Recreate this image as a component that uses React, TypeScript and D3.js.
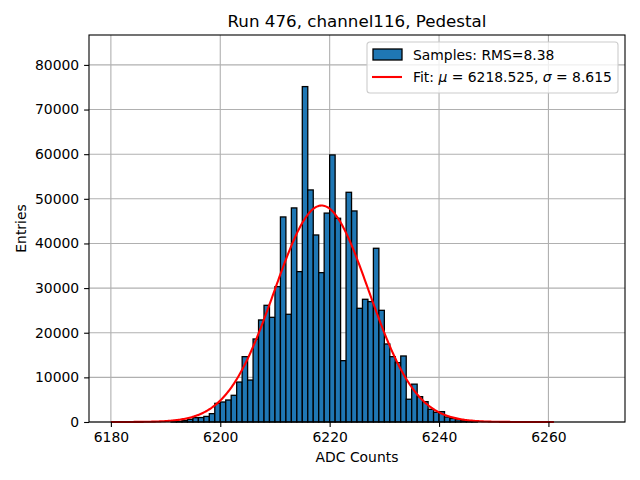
import React, { useEffect, useRef } from 'react';
import * as d3 from 'd3';

// histogram bins of width 1, starting at firstBin
const firstBin = 6191;
const counts = [
  60, 150, 350, 600, 970, 1000, 1250, 1870, 4180, 4480,
  4930, 5980, 8950, 14640, 9400, 18600, 22860, 26140, 23450, 30330,
  45940, 24130, 47960, 33690, 75140, 51990, 41900, 33460, 46800, 59830,
  45640, 13740, 51460, 47280, 25470, 27490, 26970, 38920, 25020, 17480,
  14640, 13300, 14790, 5100, 8480, 5680, 4560, 2840, 2170, 2320,
  1100, 800, 500, 300, 150, 80,
];

const xTicks = [6180, 6200, 6220, 6240, 6260];
const yTicks = [0, 10000, 20000, 30000, 40000, 50000, 60000, 70000, 80000];

// gaussian fit
const fitMu = 6218.525;
const fitSigma = 8.615;
const fitAmp = 48500;
const fitRange = [6180, 6261];

const title = 'Run 476, channel116, Pedestal';
const xLabel = 'ADC Counts';
const yLabel = 'Entries';
const rmsLabel = 'Samples: RMS=8.38';

export default function App() {
  const svgRef = useRef<SVGSVGElement>(null);
  const width = 640;
  const height = 480;

  useEffect(() => {
    if (!svgRef.current) return;
    const svg = d3.select(svgRef.current);
    svg.selectAll('*').remove();

    const margin = { top: 35, right: 15, bottom: 58, left: 89 };
    const w = width - margin.left - margin.right;
    const h = height - margin.top - margin.bottom;
    const font = "'DejaVu Sans', sans-serif";
    const fs = 13.9;

    const x = d3.scaleLinear().domain([6176, 6274]).range([0, w]);
    const y = d3.scaleLinear().domain([0, 86700]).range([h, 0]);

    const g = svg.append('g').attr('transform', `translate(${margin.left},${margin.top})`);

    // grid
    g.append('g')
      .selectAll('line')
      .data(xTicks)
      .join('line')
      .attr('x1', d => x(d)).attr('x2', d => x(d))
      .attr('y1', 0).attr('y2', h)
      .attr('stroke', '#b0b0b0').attr('stroke-width', 1.1);
    g.append('g')
      .selectAll('line')
      .data(yTicks)
      .join('line')
      .attr('y1', d => y(d)).attr('y2', d => y(d))
      .attr('x1', 0).attr('x2', w)
      .attr('stroke', '#b0b0b0').attr('stroke-width', 1.1);

    // bars
    g.append('g')
      .selectAll('rect')
      .data(counts)
      .join('rect')
      .attr('x', (d, i) => x(firstBin + i))
      .attr('width', (d, i) => x(firstBin + i + 1) - x(firstBin + i))
      .attr('y', d => y(d))
      .attr('height', d => h - y(d))
      .attr('fill', '#1f77b4')
      .attr('stroke', '#000')
      .attr('stroke-width', 1.3);

    // fit curve
    const pts = d3.range(0, 401).map(i => {
      const xv = fitRange[0] + (fitRange[1] - fitRange[0]) * i / 400;
      return [xv, fitAmp * Math.exp(-0.5 * ((xv - fitMu) / fitSigma) ** 2)] as [number, number];
    });
    g.append('path')
      .datum(pts)
      .attr('fill', 'none')
      .attr('stroke', '#ff0000')
      .attr('stroke-width', 2.1)
      .attr('d', d3.line<[number, number]>().x(d => x(d[0])).y(d => y(d[1])));

    // axes
    const xAxis = d3.axisBottom(x).tickValues(xTicks).tickSize(4.9).tickPadding(4.9).tickSizeOuter(0)
      .tickFormat(d => String(d));
    const yAxis = d3.axisLeft(y).tickValues(yTicks).tickSize(4.9).tickPadding(4.9).tickSizeOuter(0)
      .tickFormat(d => String(d));

    const gx = g.append('g').attr('transform', `translate(0,${h})`).call(xAxis);
    const gy = g.append('g').call(yAxis);
    [gx, gy].forEach(a => {
      a.select('.domain').remove();
      a.selectAll('line').attr('stroke', '#000').attr('stroke-width', 1.1);
      a.selectAll('text').attr('fill', '#000').attr('font-size', fs).attr('font-family', font);
    });

    // spines
    g.append('rect')
      .attr('width', w).attr('height', h)
      .attr('fill', 'none').attr('stroke', '#000').attr('stroke-width', 1.1);

    // labels
    svg.append('text')
      .attr('x', margin.left + w / 2).attr('y', 26.5)
      .attr('text-anchor', 'middle')
      .attr('font-family', font).attr('font-size', 16.7)
      .text(title);
    svg.append('text')
      .attr('x', margin.left + w / 2).attr('y', 462)
      .attr('text-anchor', 'middle')
      .attr('font-family', font).attr('font-size', fs)
      .text(xLabel);
    svg.append('text')
      .attr('transform', `translate(26,${margin.top + h / 2}) rotate(-90)`)
      .attr('text-anchor', 'middle')
      .attr('font-family', font).attr('font-size', fs)
      .text(yLabel);

    // legend
    const lg = svg.append('g').attr('transform', 'translate(367,42)');
    lg.append('rect')
      .attr('width', 251).attr('height', 51).attr('rx', 3)
      .attr('fill', '#fff').attr('fill-opacity', 0.8)
      .attr('stroke', '#cccccc').attr('stroke-width', 1.1);
    lg.append('rect')
      .attr('x', 6).attr('y', 7).attr('width', 29).attr('height', 11)
      .attr('fill', '#1f77b4').attr('stroke', '#000').attr('stroke-width', 1.3);
    lg.append('text')
      .attr('x', 46).attr('y', 13).attr('dy', '0.35em')
      .attr('font-family', font).attr('font-size', fs)
      .text(rmsLabel);
    lg.append('line')
      .attr('x1', 5).attr('x2', 35).attr('y1', 35).attr('y2', 35)
      .attr('stroke', '#ff0000').attr('stroke-width', 2.1);
    const ft = lg.append('text')
      .attr('x', 46).attr('y', 35).attr('dy', '0.35em')
      .attr('font-family', font).attr('font-size', fs);
    ft.append('tspan').text('Fit: ');
    ft.append('tspan').attr('font-style', 'italic').text('μ');
    ft.append('tspan').text(` = ${fitMu.toFixed(3)}, `);
    ft.append('tspan').attr('font-style', 'italic').text('σ');
    ft.append('tspan').text(` = ${fitSigma.toFixed(3)}`);
  }, []);

  return (
    <div style={{ position: 'fixed', left: 0, top: 0, background: '#fff' }}>
      <svg ref={svgRef} width={width} height={height} style={{ display: 'block' }} />
    </div>
  );
}
